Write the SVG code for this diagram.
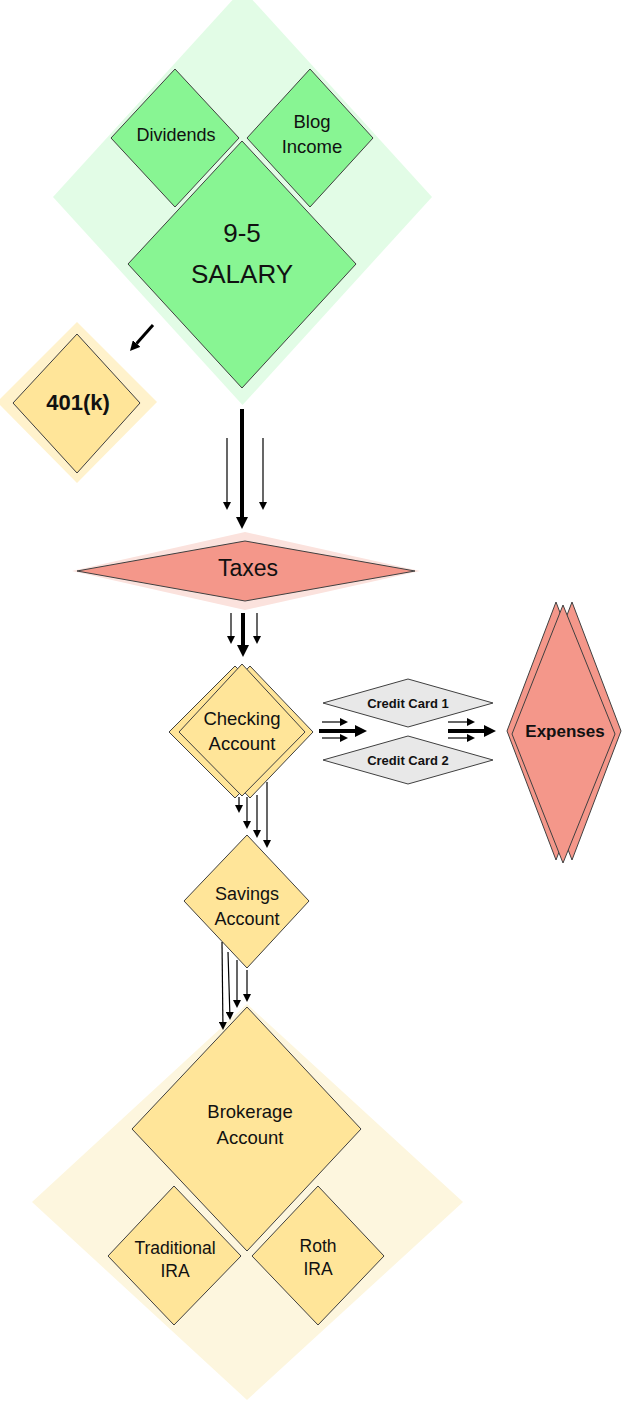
<svg xmlns="http://www.w3.org/2000/svg" width="641" height="1421" viewBox="0 0 641 1421">
<defs>
<style>
.t{font-family:"Liberation Sans",Arial,sans-serif;fill:#111;text-anchor:middle}
.b{font-weight:bold}
.node{stroke:#404040;stroke-width:1}
.green{fill:#88f593}
.gold{fill:#ffe599}
.salmon{fill:#f4978a}
.gray{fill:#e8e8e8}
.c{stroke:#000;fill:none}
.thin{stroke-width:1.2}
.med{stroke-width:3}
.thick{stroke-width:4}
</style>
<marker id="ah1" markerUnits="userSpaceOnUse" markerWidth="8" markerHeight="8" refX="0" refY="4" orient="auto"><path d="M0,0 L8,4 L0,8 z" fill="#000"/></marker>
<marker id="ah2" markerUnits="userSpaceOnUse" markerWidth="10" markerHeight="10" refX="0" refY="5" orient="auto"><path d="M0,0 L10,5 L0,10 z" fill="#000"/></marker>
<marker id="ah3" markerUnits="userSpaceOnUse" markerWidth="12" markerHeight="12" refX="0" refY="6" orient="auto"><path d="M0,0 L12,6 L0,12 z" fill="#000"/></marker>
</defs>
<rect width="641" height="1421" fill="#fff"/>

<g id="income-group">
<polygon points="242.5,-11 432,197 242.5,405 53,197" fill="#e2fce6"/>
</g>
<g id="dividends">
<polygon class="node green" points="175,69 239,138 175,207 111,138"/>
<text class="t" x="176" y="141" font-size="18">Dividends</text>
</g>
<g id="blog-income">
<polygon class="node green" points="310,69 373,138 310,207 247,138"/>
<text class="t" x="312" y="128" font-size="18.5">Blog</text>
<text class="t" x="312" y="153" font-size="18.5">Income</text>
</g>
<g id="salary">
<polygon class="node green" points="242,141 356,264 242,388 128,264"/>
<text class="t" x="242" y="242" font-size="26">9-5</text>
<text class="t" x="242" y="283" font-size="26">SALARY</text>
</g>

<g id="k401">
<polygon points="77,322 157,402 77,483 -3,402" fill="#fff2cc"/>
<polygon class="node gold" points="77,334 140,403 77,473 13,403"/>
<text class="t b" x="78" y="410" font-size="22">401(k)</text>
</g>

<g id="taxes">
<polygon points="245,532 420,571 245,610 72,571" fill="#fbe2dd"/>
<polygon class="node salmon" points="245,541 415,571 245,601 77,571"/>
<text class="t" x="248" y="576" font-size="23">Taxes</text>
</g>

<g id="checking">
<polygon class="node gold" points="235,666 301,732 235,798 169,732"/>
<polygon class="node gold" points="250,666 313,732 250,798 187,732"/>
<polygon class="node gold" points="242,664 305,732 242,796 179,732"/>
<text class="t" x="242" y="725" font-size="18.5">Checking</text>
<text class="t" x="242" y="750" font-size="18.5">Account</text>
</g>

<g id="credit-card-1">
<polygon class="node gray" points="408,679 493,703 408,727 323,703"/>
<text class="t b" x="408" y="708" font-size="13">Credit Card 1</text>
</g>
<g id="credit-card-2">
<polygon class="node gray" points="408,736 493,760 408,784 323,760"/>
<text class="t b" x="408" y="765" font-size="13">Credit Card 2</text>
</g>

<g id="expenses">
<polygon class="node salmon" points="556,602 605,731 556,860 507,731"/>
<polygon class="node salmon" points="572,602 621,731 572,860 523,731"/>
<polygon class="node salmon" points="563,605 615,734 563,863 512,734"/>
<text class="t b" x="565" y="737" font-size="17">Expenses</text>
</g>

<g id="savings">
<polygon class="node gold" points="247,835 309,901 247,968 184,901"/>
<text class="t" x="247" y="900" font-size="18">Savings</text>
<text class="t" x="247" y="925" font-size="18">Account</text>
</g>

<g id="investments-group">
<polygon points="247,1004 463,1202 247,1400 32,1202" fill="#fdf6de"/>
</g>
<g id="brokerage">
<polygon class="node gold" points="247,1007 361,1129 247,1251 132,1129"/>
<text class="t" x="250" y="1118" font-size="18.5">Brokerage</text>
<text class="t" x="250" y="1144" font-size="18.5">Account</text>
</g>
<g id="traditional-ira">
<polygon class="node gold" points="174,1186 241,1256 174,1325 108,1256"/>
<text class="t" x="175" y="1254" font-size="17.5">Traditional</text>
<text class="t" x="175" y="1277" font-size="17.5">IRA</text>
</g>
<g id="roth-ira">
<polygon class="node gold" points="318,1186 384,1256 318,1325 252,1256"/>
<text class="t" x="318" y="1252" font-size="17.5">Roth</text>
<text class="t" x="318" y="1275" font-size="17.5">IRA</text>
</g>

<g id="connectors">
<line class="c med" x1="153" y1="325" x2="136.6" y2="343.5" marker-end="url(#ah2)"/>
<line class="c thick" x1="242" y1="409" x2="242" y2="517" marker-end="url(#ah3)"/>
<line class="c thin" x1="227" y1="438" x2="227" y2="502" marker-end="url(#ah1)"/>
<line class="c thin" x1="263" y1="438" x2="263" y2="502" marker-end="url(#ah1)"/>
<line class="c thin" x1="231" y1="613" x2="231" y2="636" marker-end="url(#ah1)"/>
<line class="c thin" x1="257" y1="613" x2="257" y2="636" marker-end="url(#ah1)"/>
<line class="c thick" x1="243" y1="613" x2="243" y2="645" marker-end="url(#ah3)"/>
<line class="c thin" x1="239" y1="797" x2="239" y2="805" marker-end="url(#ah1)"/>
<line class="c thin" x1="247" y1="797" x2="247" y2="821" marker-end="url(#ah1)"/>
<line class="c thin" x1="257" y1="795" x2="257" y2="830" marker-end="url(#ah1)"/>
<line class="c thin" x1="267" y1="782" x2="267" y2="840" marker-end="url(#ah1)"/>
<line class="c thin" x1="222" y1="942" x2="222.9" y2="1022" marker-end="url(#ah1)"/>
<line class="c thin" x1="228" y1="952" x2="229.8" y2="1012" marker-end="url(#ah1)"/>
<line class="c thin" x1="237" y1="960" x2="237" y2="1000" marker-end="url(#ah1)"/>
<line class="c thin" x1="247" y1="970" x2="247" y2="994" marker-end="url(#ah1)"/>
<line class="c thin" x1="322" y1="722" x2="340" y2="722" marker-end="url(#ah1)"/>
<line class="c thick" x1="319" y1="731" x2="355" y2="731" marker-end="url(#ah3)"/>
<line class="c thin" x1="322" y1="738" x2="340" y2="738" marker-end="url(#ah1)"/>
<line class="c thin" x1="448" y1="722" x2="467" y2="722" marker-end="url(#ah1)"/>
<line class="c thick" x1="448" y1="731" x2="484" y2="731" marker-end="url(#ah3)"/>
<line class="c thin" x1="448" y1="738" x2="467" y2="738" marker-end="url(#ah1)"/>
</g>
</svg>
